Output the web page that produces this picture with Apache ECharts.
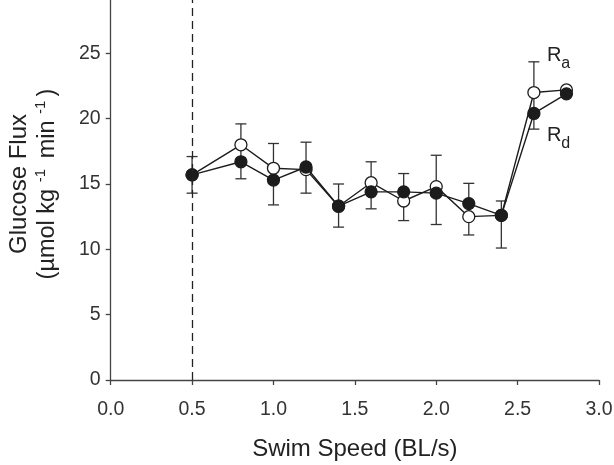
<!DOCTYPE html>
<html>
<head>
<meta charset="utf-8">
<script src="https://cdn.jsdelivr.net/npm/echarts@6/dist/echarts.min.js"></script>
<style>
  html, body { margin: 0; padding: 0; background: #fff; }
  #chart { width: 614px; height: 465px; }
</style>
</head>
<body>
<div id="chart"></div>
<script>
// ---- data ----
const speeds    = [0.5, 0.8, 1.0, 1.2, 1.4, 1.6, 1.8, 2.0, 2.2, 2.4, 2.6, 2.8];
const raValues  = [15.7, 18.0, 16.2, 16.1, 13.3, 15.1, 13.7, 14.8, 12.5, 12.6, 22.0, 22.2];
const rdValues  = [15.7, 16.7, 15.3, 16.3, 13.3, 14.4, 14.4, 14.3, 13.5, 12.6, 20.4, 21.9];
const errTop    = [17.1, 19.6, 18.1, 18.2, 15.0, 16.7, 15.8, 17.2, 15.05, 13.7, 24.35, null];
const errBottom = [14.3, 15.4, 13.4, 14.3, 11.7, 13.1, 12.2, 11.9, 11.1, 10.1, 19.2, null];
const xTicks = [0.0, 0.5, 1.0, 1.5, 2.0, 2.5, 3.0];
const yTicks = [0, 5, 10, 15, 20, 25];
const refSpeed = 0.5;
const raLabelAt = [2.68, 24.6];
const rdLabelAt = [2.68, 18.45];

const FONT = "'Liberation Sans', Arial, Helvetica, sans-serif";
const INK = '#1c1c1c';

const chart = echarts.init(document.getElementById('chart'), null, { renderer: 'canvas' });

const errData = speeds.map((s, i) => [s, errTop[i], errBottom[i]]).filter(d => d[1] != null);

const option = {
  animation: false,
  backgroundColor: '#fff',
  grid: { left: 110.7, right: 15, top: -12, bottom: 85, containLabel: false, outerBoundsMode: 'none' },
  xAxis: {
    type: 'value', min: 0, max: 3, interval: 0.5,
    name: 'Swim Speed (BL/s)', nameLocation: 'middle', nameGap: 57,
    nameTextStyle: { fontFamily: FONT, fontSize: 24, color: '#222' },
    axisLine: { show: true, onZero: false, lineStyle: { color: '#444', width: 1.3 } },
    axisTick: { show: true, inside: false, length: 5, lineStyle: { color: '#444', width: 1.3 } },
    axisLabel: { margin: 20, fontFamily: FONT, fontSize: 19.5, color: '#333',
      formatter: v => xTicks.some(t => Math.abs(t - v) < 1e-9) ? v.toFixed(1) : '' },
    splitLine: { show: false }
  },
  yAxis: {
    type: 'value', min: 0, max: 30, interval: 5,
    name: '{t|Glucose Flux}\n{n|(µmol kg }{sup|-1 }{n| min }{sup|-1 }{n|)}',
    nameLocation: 'middle', nameGap: 49, nameRotate: 90,
    nameTextStyle: {
      fontFamily: FONT, color: '#222',
      rich: {
        t: { fontFamily: FONT, fontSize: 24, color: '#222', lineHeight: 28 },
        n: { fontFamily: FONT, fontSize: 23.5, color: '#222', lineHeight: 28 },
        sup: { fontFamily: FONT, fontSize: 15, color: '#222', verticalAlign: 'top', lineHeight: 28, padding: [0, 0, 8, 0] }
      }
    },
    axisLine: { show: true, lineStyle: { color: '#444', width: 1.3 } },
    axisTick: { show: true, inside: false, length: 5, lineStyle: { color: '#444', width: 1.3 } },
    axisLabel: { margin: 10, fontFamily: FONT, fontSize: 19.5, color: '#333',
      formatter: v => yTicks.indexOf(v) >= 0 ? String(v) : '' },
    splitLine: { show: false }
  },
  series: [
    {
      type: 'custom', z: 1,
      data: errData,
      encode: { x: 0, y: [1, 2] },
      renderItem: function (params, api) {
        const x = api.value(0);
        const top = api.coord([x, api.value(1)]);
        const bot = api.coord([x, api.value(2)]);
        const hw = 5.5;
        const st = { stroke: '#333', lineWidth: 1.3, fill: null };
        return {
          type: 'group',
          children: [
            { type: 'line', shape: { x1: top[0], y1: top[1], x2: bot[0], y2: bot[1] }, style: st },
            { type: 'line', shape: { x1: top[0] - hw, y1: top[1], x2: top[0] + hw, y2: top[1] }, style: st },
            { type: 'line', shape: { x1: bot[0] - hw, y1: bot[1], x2: bot[0] + hw, y2: bot[1] }, style: st }
          ]
        };
      }
    },
    {
      name: 'Ra', type: 'line', z: 2,
      data: speeds.map((s, i) => [s, raValues[i]]),
      symbol: 'circle', symbolSize: 12, showAllSymbol: true,
      lineStyle: { color: INK, width: 1.4 },
      itemStyle: { color: '#fff', borderColor: INK, borderWidth: 1.3 },
      markLine: {
        silent: true, symbol: 'none',
        label: { show: false },
        lineStyle: { color: '#222', width: 1.3, type: [8, 5] },
        data: [[{ coord: [refSpeed, 0] }, { coord: [refSpeed, 30] }]]
      },
      markPoint: {
        silent: true, symbol: 'circle', symbolSize: 0,
        data: [
          { coord: raLabelAt, label: { formatter: '{r|R}{s|a}' } },
          { coord: rdLabelAt, label: { formatter: '{r|R}{s|d}' } }
        ],
        label: {
          show: true, position: 'right', distance: 0,
          rich: {
            r: { fontFamily: FONT, fontSize: 20, color: '#222', lineHeight: 22, verticalAlign: 'top' },
            s: { fontFamily: FONT, fontSize: 16, color: '#222', lineHeight: 26, verticalAlign: 'bottom', padding: [7, 0, 0, 0] }
          }
        }
      }
    },
    {
      name: 'Rd', type: 'line', z: 3,
      data: speeds.map((s, i) => [s, rdValues[i]]),
      symbol: 'circle', symbolSize: 12, showAllSymbol: true,
      lineStyle: { color: INK, width: 1.4 },
      itemStyle: { color: INK, borderColor: INK, borderWidth: 1.3 }
    }
  ]
};
chart.setOption(option);
</script>
</body>
</html>
